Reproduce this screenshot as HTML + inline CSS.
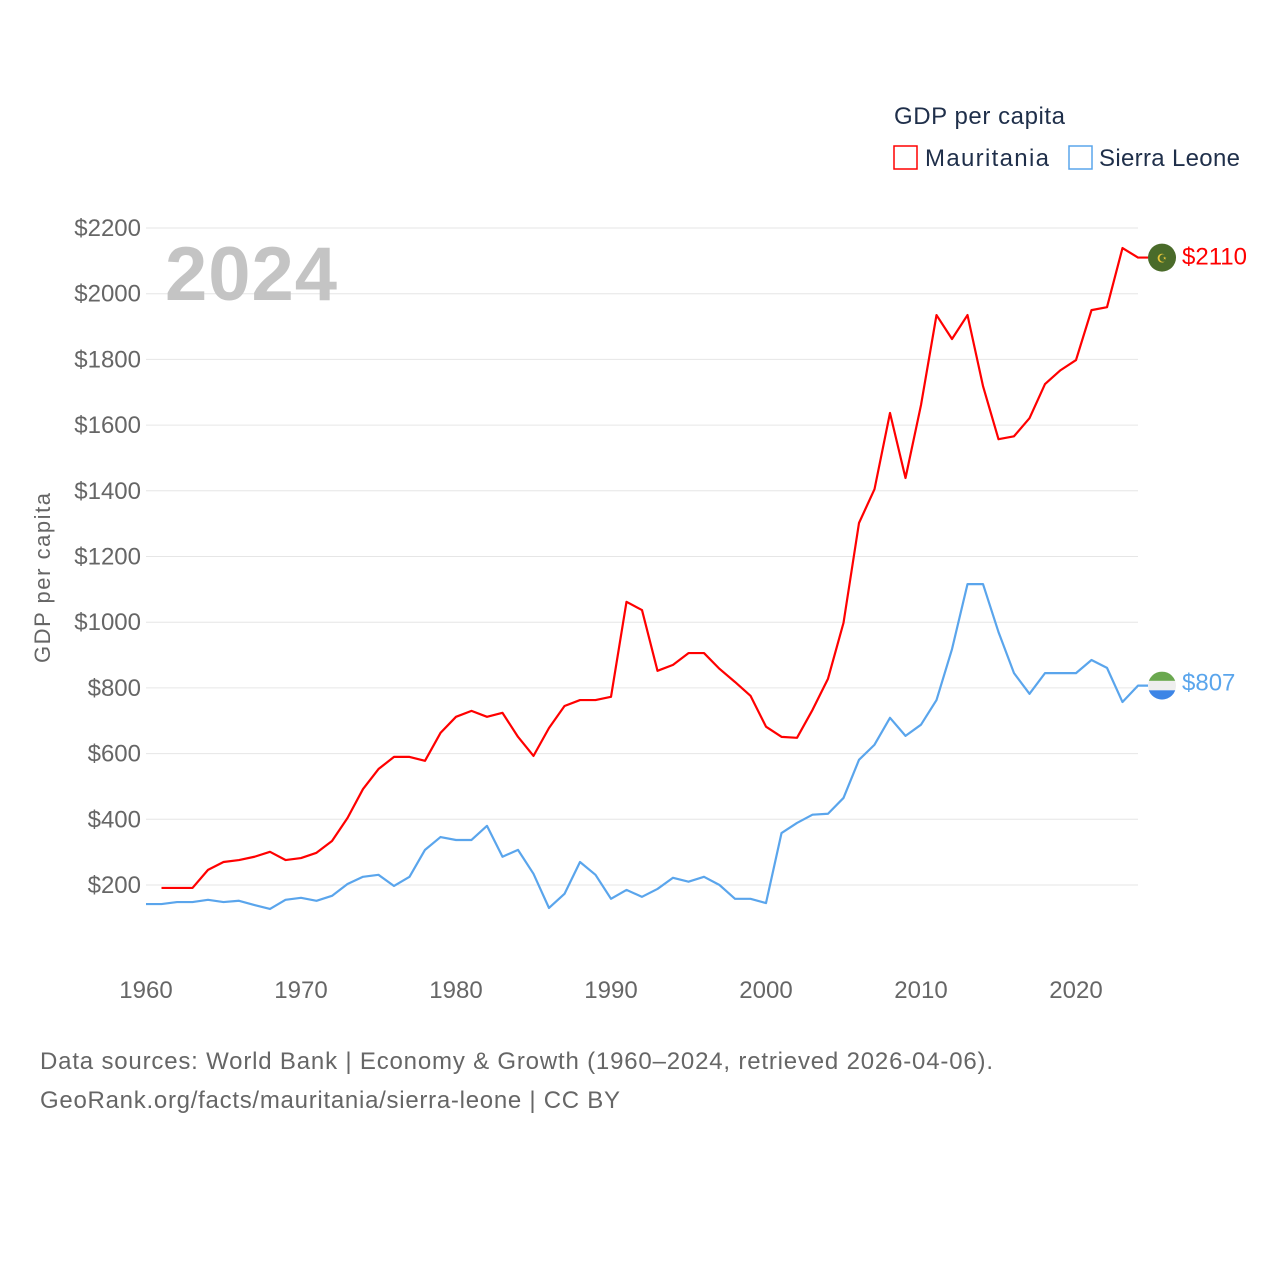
<!DOCTYPE html>
<html><head><meta charset="utf-8"><style>
body{margin:0;background:#fff;font-family:"Liberation Sans",sans-serif}
</style></head><body>
<svg width="1280" height="1280" viewBox="0 0 1280 1280" xmlns="http://www.w3.org/2000/svg">
<g id="grid"></g>
<g id="yticks" font-size="24" fill="#666" text-anchor="end"></g>
<g id="xticks" font-size="24" fill="#666" text-anchor="middle"></g>
<text x="165" y="300" font-size="76" font-weight="bold" fill="#c4c4c4" textLength="172">2024</text>
<text transform="translate(50,578) rotate(-90)" font-size="22" fill="#666" text-anchor="middle" textLength="170">GDP per capita</text>
<g id="series"></g>
<g>
<text x="894" y="124" font-size="24" fill="#1f2f4a" textLength="171">GDP per capita</text>
<rect x="894" y="146" width="23" height="23" fill="none" stroke="#ff0000" stroke-width="1.5"/>
<text x="925" y="166" font-size="24" fill="#1f2f4a" textLength="124">Mauritania</text>
<rect x="1069" y="146" width="23" height="23" fill="none" stroke="#5aa5ec" stroke-width="1.5"/>
<text x="1099" y="166" font-size="24" fill="#1f2f4a" textLength="141">Sierra Leone</text>
</g>
<text x="40" y="1069" font-size="24" fill="#666" textLength="953">Data sources: World Bank | Economy &amp; Growth (1960–2024, retrieved 2026-04-06).</text>
<text x="40" y="1108" font-size="24" fill="#666" textLength="580">GeoRank.org/facts/mauritania/sierra-leone | CC BY</text>
</svg>
<script>
const yTicks=[200,400,600,800,1000,1200,1400,1600,1800,2000,2200];
const xTicks=[1960,1970,1980,1990,2000,2010,2020];
const mrYears=[];for(let y=1961;y<=2024;y++)mrYears.push(y);
const slYears=[];for(let y=1960;y<=2024;y++)slYears.push(y);
const mauritania=[191,191,191,246,270,276,286,301,276,282,298,334,404,492,553,590,590,578,663,712,730,712,724,651,593,678,745,763,763,773,1062,1037,852,870,906,906,858,818,776,682,651,648,733,828,998,1302,1405,1637,1439,1661,1935,1862,1935,1719,1557,1566,1621,1725,1767,1798,1950,1959,2139,2110];
const sierraLeone=[142,142,148,148,155,148,152,139,127,155,161,152,167,203,225,231,197,225,307,346,337,337,380,286,307,234,130,173,270,231,158,185,164,188,222,210,225,200,158,158,145,358,389,414,417,465,581,627,709,654,688,763,918,1116,1116,970,845,782,845,845,845,885,861,757,807];
const X=y=>146+(y-1960)*15.5;
const Y=v=>950.7-v*0.3285;
const NS="http://www.w3.org/2000/svg";
function mk(t,a,p){const e=document.createElementNS(NS,t);for(const k in a)e.setAttribute(k,a[k]);p.appendChild(e);return e;}
const grid=document.getElementById('grid'),yt=document.getElementById('yticks'),xt=document.getElementById('xticks'),ser=document.getElementById('series');
yTicks.forEach(v=>{
const l=mk('line',{x1:146,x2:1138,y1:Y(v),y2:Y(v),stroke:'#e6e6e6','stroke-width':1},grid);


const t=mk('text',{x:141,y:Y(v)+8},yt);t.textContent='$'+v;


});
xTicks.forEach(v=>{
const t=mk('text',{x:X(v),y:998},xt);t.textContent=v;


});
function line(years,vals,color,name){
const pts=years.map((y,i)=>X(y)+','+Y(vals[i]));
pts.push((X(years[years.length-1])+10)+','+Y(vals[vals.length-1]));
const p=mk('polyline',{points:pts.join(' '),fill:'none',stroke:color,'stroke-width':2.2,'stroke-linejoin':'round'},ser);


}
line(mrYears,mauritania,'#ff0000','mauritania-line');
line(slYears,sierraLeone,'#5aa5ec','sierra-leone-line');
const mv=mauritania[mauritania.length-1],sv=sierraLeone[sierraLeone.length-1];
const f1=mk('circle',{cx:1162,cy:Y(mv),r:14,fill:'#4a6b2a'},ser);


const m1=mk('text',{x:1162,y:Y(mv)+5,'font-size':12,fill:'#e8c53a','text-anchor':'middle'},ser);m1.textContent='☪';


const sy=Y(sv);
const g=mk('g',{},ser);


mk('clipPath',{id:'cp'},g);
mk('circle',{cx:1162,cy:sy,r:14},document.getElementById('cp'));
mk('rect',{x:1148,y:sy-14,width:28,height:9.3,fill:'#6aa84f','clip-path':'url(#cp)'},g);
mk('rect',{x:1148,y:sy-4.7,width:28,height:9.4,fill:'#eeeeee','clip-path':'url(#cp)'},g);
mk('rect',{x:1148,y:sy+4.7,width:28,height:9.3,fill:'#3d85e6','clip-path':'url(#cp)'},g);
const l1=mk('text',{x:1182,y:Y(mv)+7,'font-size':24,fill:'#ff0000'},ser);l1.textContent='$'+mv;


const l2=mk('text',{x:1182,y:sy+5,'font-size':24,fill:'#5aa5ec'},ser);l2.textContent='$'+sv;


</script>
</body></html>
